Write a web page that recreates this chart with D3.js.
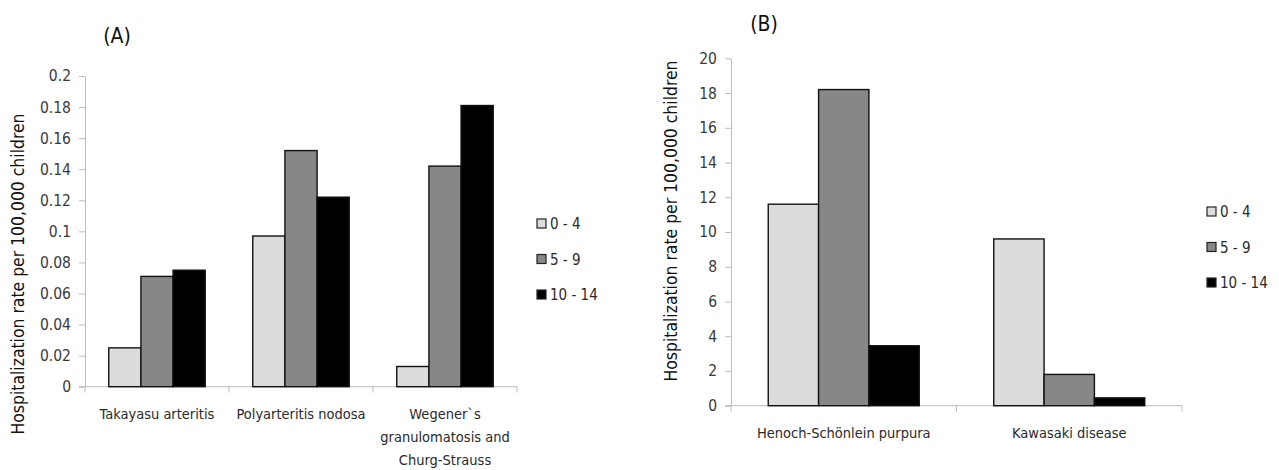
<!DOCTYPE html>
<html>
<head>
<meta charset="utf-8">
<script src="https://cdn.jsdelivr.net/npm/d3@7"></script>
<style>
  body { margin: 0; background: #fff; }
  svg text { font-family: 'DejaVu Sans Condensed', 'DejaVu Sans', sans-serif; }
  .axis path, .axis line { stroke: #bcbcbc; }
  .axis text { fill: #3a3a3a; font-size: 15.5px; }
</style>
</head>
<body>
<svg id="chart" width="1279" height="470"></svg>
<script>
// age groups (legend)
var ageGroups = ['0 - 4', '5 - 9', '10 - 14']
var ageColors = ['#dcdcdc', '#878787', '#000000']

// (A) vasculitides
var catsA = ['Takayasu arteritis', 'Polyarteritis nodosa', 'Wegener`s granulomatosis and Churg-Strauss']
var catLinesA = [['Takayasu arteritis'], ['Polyarteritis nodosa'], ['Wegener`s', 'granulomatosis and', 'Churg-Strauss']]
var valsA_0_4 = [0.025, 0.097, 0.013]
var valsA_5_9 = [0.071, 0.152, 0.142]
var valsA_10_14 = [0.075, 0.122, 0.181]
var ticksA = [0, 0.02, 0.04, 0.06, 0.08, 0.1, 0.12, 0.14, 0.16, 0.18, 0.2]
var tickLabelsA = ['0', '0.02', '0.04', '0.06', '0.08', '0.1', '0.12', '0.14', '0.16', '0.18', '0.2']

// (B)
var catsB = ['Henoch-Schönlein purpura', 'Kawasaki disease']
var catLinesB = [['Henoch-Schönlein purpura'], ['Kawasaki disease']]
var valsB_0_4 = [11.6, 9.6]
var valsB_5_9 = [18.2, 1.8]
var valsB_10_14 = [3.45, 0.45]
var ticksB = [0, 2, 4, 6, 8, 10, 12, 14, 16, 18, 20]
var tickLabelsB = ['0', '2', '4', '6', '8', '10', '12', '14', '16', '18', '20']

var yTitle = 'Hospitalization rate  per 100,000 children'

var svg = d3.select('#chart')

function drawPanel (conf) {
  var g = svg.append('g')

  var x0 = d3.scaleBand()
    .domain(conf.cats)
    .range([conf.left, conf.right])

  var x1 = d3.scaleBand()
    .domain(ageGroups)
    .range([0, x0.bandwidth()])
    .paddingOuter(0.74)

  var y = d3.scaleLinear()
    .domain([0, conf.max])
    .range([conf.bottom, conf.top])

  var color = d3.scaleOrdinal().domain(ageGroups).range(ageColors)

  // Y axis
  var yAxis = g.append('g')
    .attr('class', 'axis')
    .attr('transform', 'translate(' + conf.left + ',0)')
    .call(d3.axisLeft(y)
      .tickValues(conf.ticks)
      .tickFormat(function (d, i) { return conf.tickLabels[i] })
      .tickSize(6)
      .tickSizeOuter(0)
      .tickPadding(8))
  yAxis.select('.domain').attr('stroke', '#bcbcbc')

  // X axis line + boundary ticks
  g.append('line')
    .attr('x1', conf.left - 6).attr('x2', conf.right)
    .attr('y1', y(0)).attr('y2', y(0))
    .attr('stroke', '#bcbcbc')

  var bounds = conf.cats.map(function (c) { return x0(c) }).concat([conf.right])
  g.selectAll('line.bound')
    .data(bounds)
    .enter()
      .append('line')
      .attr('class', 'bound')
      .attr('x1', function (d) { return d })
      .attr('x2', function (d) { return d })
      .attr('y1', y(0))
      .attr('y2', y(0) + 6)
      .attr('stroke', '#bcbcbc')

  // Bars
  var rows = conf.cats.map(function (c, i) {
    return conf.series.map(function (s, j) {
      return { cat: c, age: ageGroups[j], value: s[i] }
    })
  })

  var groups = g.selectAll('g.group')
    .data(rows)
    .enter()
      .append('g')
      .attr('class', 'group')
      .attr('transform', function (d, i) {
        return 'translate(' + x0(conf.cats[i]) + ',0)'
      })

  groups.selectAll('rect')
    .data(function (d) { return d })
    .enter()
      .append('rect')
      .attr('x', function (d) { return x1(d.age) })
      .attr('width', x1.bandwidth())
      .attr('y', function (d) { return y(d.value) })
      .attr('height', function (d) { return y(0) - y(d.value) })
      .attr('fill', function (d) { return color(d.age) })
      .attr('stroke', '#111')
      .attr('stroke-width', 1.4)

  // Category labels
  var labels = g.selectAll('text.cat')
    .data(conf.catLines)
    .enter()
      .append('text')
      .attr('class', 'cat')
      .attr('text-anchor', 'middle')
      .attr('font-size', 14.5)
      .attr('fill', '#2a2a2a')
      .attr('transform', function (d, i) {
        return 'translate(' + (x0(conf.cats[i]) + x0.bandwidth() / 2) + ',' + (y(0) + 32) + ')'
      })

  labels.selectAll('tspan')
    .data(function (d) { return d })
    .enter()
      .append('tspan')
      .attr('x', 0)
      .attr('y', function (d, i) { return i * 23 })
      .text(function (d) { return d })

  // Y title
  g.append('text')
    .attr('transform', 'translate(' + conf.titleX + ',' + conf.titleY + ') rotate(-90)')
    .attr('text-anchor', 'middle')
    .attr('font-size', 17.4)
    .attr('fill', '#111')
    .text(yTitle)

  // Panel label
  g.append('text')
    .attr('x', conf.labelX)
    .attr('y', conf.labelY)
    .attr('text-anchor', 'middle')
    .attr('font-size', 21)
    .attr('fill', '#111')
    .text(conf.label)

  // Legend
  var legend = g.selectAll('g.legend')
    .data(ageGroups)
    .enter()
      .append('g')
      .attr('class', 'legend')
      .attr('transform', function (d, i) {
        return 'translate(' + conf.legendX + ',' + (conf.legendY + i * 35.5) + ')'
      })

  legend.append('rect')
    .attr('x', 0).attr('y', -5)
    .attr('width', 9).attr('height', 9)
    .attr('fill', function (d) { return color(d) })
    .attr('stroke', '#222')
    .attr('stroke-width', 1.2)

  legend.append('text')
    .attr('x', 13)
    .attr('y', 5)
    .attr('font-size', 15)
    .attr('fill', '#2a2a2a')
    .text(function (d) { return d })
}

drawPanel({
  cats: catsA, catLines: catLinesA,
  series: [valsA_0_4, valsA_5_9, valsA_10_14],
  ticks: ticksA, tickLabels: tickLabelsA, max: 0.2,
  left: 85, right: 517, top: 76, bottom: 386.7,
  titleX: 24, titleY: 274,
  label: '(A)', labelX: 117, labelY: 43,
  legendX: 537, legendY: 224
})

drawPanel({
  cats: catsB, catLines: catLinesB,
  series: [valsB_0_4, valsB_5_9, valsB_10_14],
  ticks: ticksB, tickLabels: tickLabelsB, max: 20,
  left: 731, right: 1182, top: 58.3, bottom: 405.7,
  titleX: 677, titleY: 221,
  label: '(B)', labelX: 764, labelY: 31,
  legendX: 1207, legendY: 212
})
</script>
</body>
</html>
